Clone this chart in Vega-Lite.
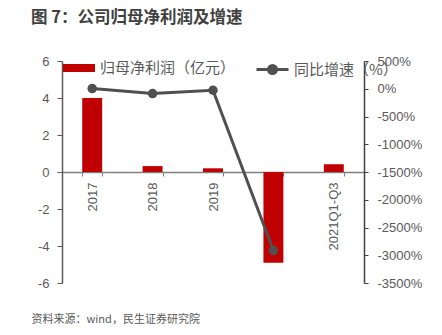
{
  "$schema": "https://vega.github.io/schema/vega-lite/v6.json",
  "autosize": {"type": "none"},
  "width": 302,
  "height": 222,
  "padding": {"left": 62, "top": 61, "right": 78, "bottom": 52},
  "background": "white",
  "title": {
    "text": "图 7：公司归母净利润及增速",
    "anchor": "start",
    "frame": "group",
    "dx": -31,
    "fontSize": 16.5,
    "font": "Noto Sans CJK SC",
    "fontWeight": "bold",
    "color": "#404040",
    "offset": 26
  },
  "data": {
    "values": [
      {"cat": "2017", "profit": 4.0, "growth": 4, "s1": "归母净利润（亿元）", "s2": "同比增速（%）"},
      {"cat": "2018", "profit": 0.32, "growth": -87, "s1": "归母净利润（亿元）", "s2": "同比增速（%）"},
      {"cat": "2019", "profit": 0.2, "growth": -27, "s1": "归母净利润（亿元）", "s2": "同比增速（%）"},
      {"cat": "2020", "profit": -4.9, "growth": -2915, "s1": "归母净利润（亿元）", "s2": "同比增速（%）"},
      {"cat": "2021Q1-Q3", "profit": 0.42, "growth": null, "s1": "归母净利润（亿元）", "s2": "同比增速（%）"}
    ]
  },
  "encoding": {
    "x": {
      "field": "cat",
      "type": "nominal",
      "sort": null,
      "scale": {"paddingInner": 0.67, "paddingOuter": 0.335},
      "axis": {
        "title": "资料来源：wind，民生证券研究院",
        "titleX": -31,
        "titleY": 147,
        "titleAnchor": "start",
        "titleAlign": "left",
        "titleBaseline": "middle",
        "titleFont": "Noto Sans CJK SC",
        "titleFontSize": 11,
        "titleFontWeight": "normal",
        "titleColor": "#595959",
        "offset": -111,
        "labelAngle": -90,
        "labelFont": "Liberation Sans",
        "labelFontSize": 13,
        "labelColor": "#595959",
        "labelPadding": 6,
        "tickBand": "extent",
        "tickSize": 4,
        "tickColor": "#808080",
        "domainColor": "#808080",
        "domainWidth": 1.5,
        "grid": false
      }
    }
  },
  "layer": [
    {
      "mark": {"type": "bar", "color": "#C00000"},
      "encoding": {
        "y": {
          "field": "profit",
          "type": "quantitative",
          "scale": {"domain": [-6, 6], "nice": false, "zero": false},
          "axis": {
            "title": null,
            "values": [-6, -4, -2, 0, 2, 4, 6],
            "labelExpr": "'' + datum.value",
            "grid": false,
            "labelFont": "Liberation Sans",
            "labelFontSize": 13,
            "labelColor": "#595959",
            "labelPadding": 8,
            "tickSize": 5,
            "tickColor": "#595959",
            "domainColor": "#595959",
            "domainWidth": 1.5
          }
        },
        "fill": {
          "field": "s1",
          "type": "nominal",
          "scale": {"range": ["#C00000"]},
          "legend": {
            "title": null,
            "orient": "none",
            "legendX": 1,
            "legendY": -9,
            "padding": 0,
            "symbolType": "M-1,-0.25H1V0.25H-1Z",
            "symbolSize": 1024,
            "symbolStrokeWidth": 0,
            "labelOffset": 5,
            "labelFont": "Noto Sans CJK SC",
            "labelFontSize": 15,
            "labelColor": "#595959"
          }
        }
      }
    },
    {
      "mark": {"type": "line", "strokeWidth": 3, "color": "#505050"},
      "encoding": {
        "y": {
          "field": "growth",
          "type": "quantitative",
          "scale": {"domain": [-3500, 500], "nice": false, "zero": false},
          "axis": null
        },
        "stroke": {
          "field": "s2",
          "type": "nominal",
          "scale": {"range": ["#505050"]},
          "legend": {
            "title": null,
            "orient": "none",
            "legendX": 193,
            "legendY": -9,
            "padding": 0,
            "symbolType": "M-1,0H1M0.25,0A0.25,0.25,0,1,1,-0.25,0A0.25,0.25,0,1,1,0.25,0Z",
            "symbolSize": 1024,
            "symbolStrokeWidth": 3,
            "symbolFillColor": "#505050",
            "labelOffset": 4,
            "labelFont": "Noto Sans CJK SC",
            "labelFontSize": 15,
            "labelColor": "#595959"
          }
        }
      }
    },
    {
      "mark": {"type": "point", "filled": true, "size": 90, "color": "#505050", "opacity": 1},
      "encoding": {
        "y": {
          "field": "growth",
          "type": "quantitative",
          "scale": {"domain": [-3500, 500], "nice": false, "zero": false},
          "axis": {
            "orient": "right",
            "title": null,
            "values": [-3500, -3000, -2500, -2000, -1500, -1000, -500, 0, 500],
            "labelExpr": "datum.value + '%'",
            "grid": false,
            "labelFont": "Liberation Sans",
            "labelFontSize": 13,
            "labelColor": "#595959",
            "labelPadding": 9,
            "tickSize": 4,
            "tickColor": "#404040",
            "domainColor": "#404040",
            "domainWidth": 1.5
          }
        }
      }
    }
  ],
  "resolve": {"scale": {"y": "independent", "fill": "independent", "stroke": "independent"}},
  "config": {"view": {"stroke": null}}
}
